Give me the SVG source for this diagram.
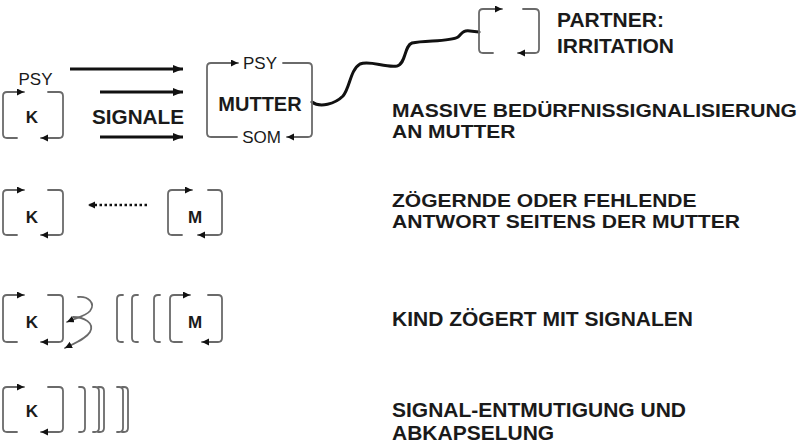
<svg xmlns="http://www.w3.org/2000/svg" width="800" height="447" viewBox="0 0 800 447">
<style>
.br{fill:none;stroke:#6a6a6a;stroke-width:1.8;stroke-linecap:round;stroke-linejoin:round}
.thick{fill:none;stroke:#111;stroke-width:2.8}
.t{font-family:"Liberation Sans",Arial,sans-serif;fill:#1a1a1a}
.b{font-weight:bold}
.lab{font-family:"Liberation Sans",Arial,sans-serif;font-weight:bold;font-size:21px;fill:#1a1a1a}
.lab2{font-family:"Liberation Sans",Arial,sans-serif;font-weight:bold;font-size:19px;fill:#1a1a1a}
</style>
<defs>
<marker id="ah" markerUnits="userSpaceOnUse" markerWidth="8" markerHeight="8" refX="7" refY="3.5" orient="auto"><path d="M0,0 L7,3.5 L0,7 z" fill="#111"/></marker>
<marker id="big" markerUnits="userSpaceOnUse" markerWidth="11" markerHeight="9" refX="10" refY="4" orient="auto"><path d="M0,0 L10,4 L0,8 z" fill="#111"/></marker>
</defs>
<rect width="800" height="447" fill="#fff"/>

<g id="connectors">
<path class="thick" d="M70 69 H183" marker-end="url(#big)"/>
<path class="thick" d="M100 92 H183" marker-end="url(#big)"/>
<path class="thick" d="M100 137 H183" marker-end="url(#big)"/>
<path d="M312 102 C320 108,335 104,343 96 C350 88,350 70,360 64 C370 60,385 68,397 66 C406 64,404 46,412 43 C425 40,450 42,458 37 C462 34,462 30,470 31 L479 32" fill="none" stroke="#111" stroke-width="3" stroke-linecap="round"/>
<path d="M147 205 H88" fill="none" stroke="#111" stroke-width="2.6" stroke-dasharray="2.5 2.5" marker-end="url(#ah)"/>
<path class="br" d="M78 297 C88 296,96 303,90 311 C86 316,76 318,67 322" marker-end="url(#ah)"/>
<path class="br" d="M73 317 C84 317,95 323,90 332 C86 339,75 343,65 348" marker-end="url(#ah)"/>
</g>

<g id="node-k1">
<path class="br" d="M17 138 H7 Q3 138 3 134 V96 Q3 92 7 92 H24" marker-end="url(#ah)"/>
<path class="br" d="M48 92 H59 Q63 92 63 96 V134 Q63 138 59 138 H41" marker-end="url(#ah)"/>
<text class="t" x="35.5" y="85" font-size="17" text-anchor="middle">PSY</text>
<text class="t b" x="32" y="123" font-size="17" text-anchor="middle">K</text>
</g>
<g id="label-signale"><text class="t b" x="92" y="124" font-size="20" textLength="92" lengthAdjust="spacingAndGlyphs">SIGNALE</text></g>

<g id="node-mutter">
<path class="br" d="M237 137 H211 Q207 137 207 133 V67 Q207 63 211 63 H238" marker-end="url(#ah)"/>
<path class="br" d="M283 63 H308 Q312 63 312 67 V133 Q312 137 308 137 H287" marker-end="url(#ah)"/>
<text class="t" x="260" y="69" font-size="17" text-anchor="middle">PSY</text>
<text class="t" x="261.5" y="143" font-size="17" text-anchor="middle">SOM</text>
<text class="t b" x="260" y="111" font-size="20" text-anchor="middle">MUTTER</text>
</g>

<g id="node-partner">
<path class="br" d="M493 53 H483 Q479 53 479 49 V13 Q479 9 483 9 H502" marker-end="url(#ah)"/>
<path class="br" d="M523 9 H535 Q539 9 539 13 V49 Q539 53 535 53 H518" marker-end="url(#ah)"/>
</g>
<g id="text-partner">
<text class="lab" x="557" y="27">PARTNER:</text>
<text class="lab" x="557" y="52.5">IRRITATION</text>
</g>

<g id="text-row1">
<text class="lab2" x="392" y="116.5" textLength="405" lengthAdjust="spacingAndGlyphs">MASSIVE BEDÜRFNISSIGNALISIERUNG</text>
<text class="lab2" x="392" y="138" textLength="123.5" lengthAdjust="spacingAndGlyphs">AN MUTTER</text>
</g>

<g id="node-k2">
<path class="br" d="M17 235 H7 Q3 235 3 231 V194 Q3 190 7 190 H24" marker-end="url(#ah)"/>
<path class="br" d="M48 190 H59 Q63 190 63 194 V231 Q63 235 59 235 H41" marker-end="url(#ah)"/>
<text class="t b" x="32" y="223" font-size="17" text-anchor="middle">K</text>
</g>
<g id="node-m2">
<path class="br" d="M182 235 H172 Q168 235 168 231 V194 Q168 190 172 190 H192" marker-end="url(#ah)"/>
<path class="br" d="M208 190 H218 Q222 190 222 194 V231 Q222 235 218 235 H198" marker-end="url(#ah)"/>
<text class="t b" x="195" y="223" font-size="17" text-anchor="middle">M</text>
</g>
<g id="text-row2">
<text class="lab2" x="392" y="206.5" textLength="304.5" lengthAdjust="spacingAndGlyphs">ZÖGERNDE ODER FEHLENDE</text>
<text class="lab2" x="392" y="228" textLength="348" lengthAdjust="spacingAndGlyphs">ANTWORT SEITENS DER MUTTER</text>
</g>

<g id="node-k3">
<path class="br" d="M17 342 H7 Q3 342 3 338 V299 Q3 295 7 295 H24" marker-end="url(#ah)"/>
<path class="br" d="M48 295 H59 Q63 295 63 299 V338 Q63 342 59 342 H41" marker-end="url(#ah)"/>
<text class="t b" x="32" y="328" font-size="17" text-anchor="middle">K</text>
</g>
<g id="brackets-row3">
<path class="br" d="M123 295 H121 Q117 295 117 299 V338 Q117 342 121 342 H123"/>
<path class="br" d="M138 295 H136 Q132 295 132 299 V338 Q132 342 136 342 H138"/>
<path class="br" d="M160 295 H158 Q154 295 154 299 V338 Q154 342 158 342 H160"/>
</g>
<g id="node-m3">
<path class="br" d="M182 342 H174 Q170 342 170 338 V299 Q170 295 174 295 H190" marker-end="url(#ah)"/>
<path class="br" d="M208 295 H218 Q222 295 222 299 V338 Q222 342 218 342 H202" marker-end="url(#ah)"/>
<text class="t b" x="195" y="328" font-size="17" text-anchor="middle">M</text>
</g>
<g id="text-row3">
<text class="lab" x="392" y="326">KIND ZÖGERT MIT SIGNALEN</text>
</g>

<g id="node-k4">
<path class="br" d="M17 432 H7 Q3 432 3 428 V391 Q3 387 7 387 H24" marker-end="url(#ah)"/>
<path class="br" d="M48 387 H59 Q63 387 63 391 V428 Q63 432 59 432 H41" marker-end="url(#ah)"/>
<text class="t b" x="32" y="417" font-size="17" text-anchor="middle">K</text>
</g>
<g id="brackets-row4">
<path class="br" d="M79 387 H81 Q85 387 85 391 V428 Q85 432 81 432 H79"/>
<path class="br" d="M93 387 H95 Q99 387 99 391 V428 Q99 432 95 432 H93"/>
<path class="br" d="M98 387 H100 Q104 387 104 391 V428 Q104 432 100 432 H98"/>
<path class="br" d="M117 387 H119 Q123 387 123 391 V428 Q123 432 119 432 H117"/>
<path class="br" d="M122 387 H124 Q128 387 128 391 V428 Q128 432 124 432 H122"/>
</g>
<g id="text-row4">
<text class="lab" x="392" y="416.5">SIGNAL-ENTMUTIGUNG UND</text>
<text class="lab" x="392" y="440">ABKAPSELUNG</text>
</g>
</svg>
